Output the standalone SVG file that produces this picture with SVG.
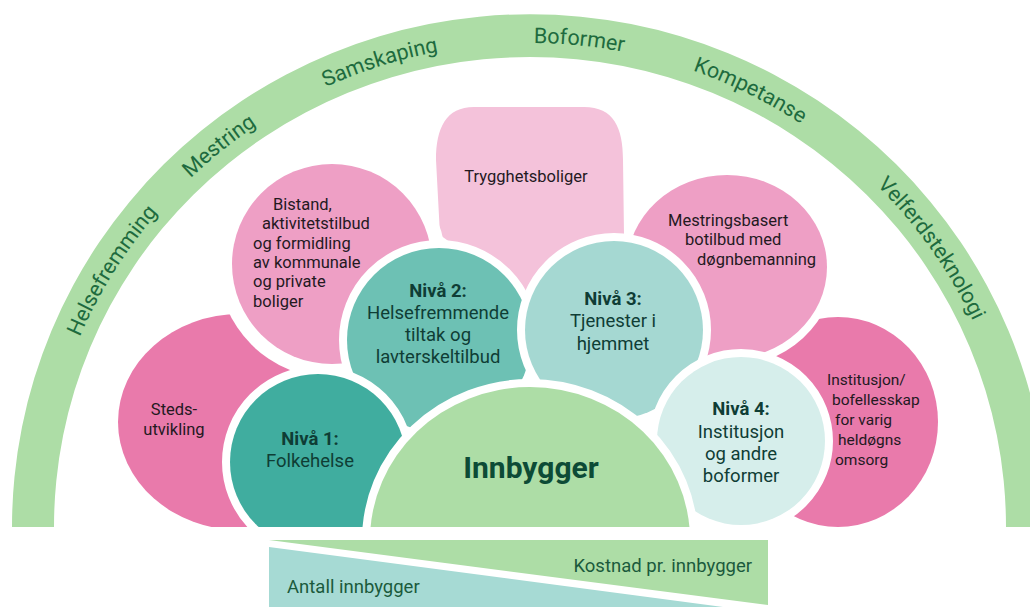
<svg xmlns="http://www.w3.org/2000/svg" width="1030" height="607" viewBox="0 0 1030 607">
  <defs>
    <style>
      .band{fill:#addda6}
      .arct{font-family:Roboto,"Liberation Sans",sans-serif;font-size:21.5px;fill:#1e6b3e}
      .halo{stroke:#ffffff;stroke-width:16;paint-order:stroke}
      .pk{font-family:Roboto,"Liberation Sans",sans-serif;font-size:16.5px;fill:#24191f}
      .pk15{font-size:15.5px}
      .mid{text-anchor:middle}
      .tl{font-family:Roboto,"Liberation Sans",sans-serif;font-size:18.5px;fill:#0f3d35;text-anchor:middle}
      .b{font-weight:bold}
      .bar{font-family:Roboto,"Liberation Sans",sans-serif;font-size:18.5px;fill:#1b5a3c}
    </style>
    <clipPath id="above">
      <rect x="0" y="0" width="1030" height="527"/>
    </clipPath>
    <path id="arcPath" d="M 40.5,527 A 489.5 484 0 0 1 1019.5,527"/>
  </defs>

  <!-- outer half ring with the guiding principles -->
  <g id="principles">
    <path class="band" d="M 12,527 A 518 513 0 0 1 1048,527 L 1006,527 A 476 470 0 0 0 54,527 Z"/>
    <text class="arct">
      <textPath href="#arcPath" startOffset="17.6%" text-anchor="middle">Helsefremming</textPath>
    </text>
    <text class="arct">
      <textPath href="#arcPath" startOffset="28.3%" text-anchor="middle">Mestring</textPath>
    </text>
    <text class="arct">
      <textPath href="#arcPath" startOffset="40.1%" text-anchor="middle">Samskaping</textPath>
    </text>
    <text class="arct">
      <textPath href="#arcPath" startOffset="53.2%" text-anchor="middle">Boformer</textPath>
    </text>
    <text class="arct">
      <textPath href="#arcPath" startOffset="64.8%" text-anchor="middle">Kompetanse</textPath>
    </text>
    <text class="arct">
      <textPath href="#arcPath" startOffset="80.6%" text-anchor="middle">Velferdsteknologi</textPath>
    </text>
  </g>

  <g clip-path="url(#above)">
    <g id="stedsutvikling">
      <ellipse cx="240" cy="422" rx="122" ry="108" fill="#e97aab"/>
      <text class="pk mid" x="174" y="415">Steds-</text>
      <text class="pk mid" x="174" y="435">utvikling</text>
    </g>

    <g id="institusjon-bofellesskap">
      <ellipse cx="838" cy="422" rx="100" ry="105" fill="#e97aab"/>
      <text class="pk pk15" x="827" y="385">Institusjon/</text>
      <text class="pk pk15" x="832" y="405">bofellesskap</text>
      <text class="pk pk15" x="835" y="425">for varig</text>
      <text class="pk pk15" x="838" y="445">heldøgns</text>
      <text class="pk pk15" x="835" y="465">omsorg</text>
    </g>

    <g id="trygghetsboliger">
      <path d="M 474,107 H 584 C 614,107 623,128 623,160 L 624,235 L 530,300 L 440,235 L 436,160 C 436,128 446,107 474,107 Z" fill="#f4c2da"/>
      <text class="pk mid" x="526" y="182">Trygghetsboliger</text>
    </g>

    <g id="bistand">
      <!-- wider white clearance towards Stedsutvikling -->
      <circle cx="332" cy="264" r="114" fill="#ffffff"/>
      <circle class="halo" cx="332" cy="264" r="100" fill="#ee9fc5"/>
      <text class="pk" x="273" y="210">Bistand,</text>
      <text class="pk" x="262" y="229">aktivitetstilbud</text>
      <text class="pk" x="253" y="249">og formidling</text>
      <text class="pk" x="253" y="268">av kommunale</text>
      <text class="pk" x="253" y="287">og private</text>
      <text class="pk" x="253" y="307">boliger</text>
    </g>

    <g id="mestringsbasert">
      <ellipse class="halo" cx="727" cy="267" rx="100" ry="92" fill="#ee9fc5"/>
      <text class="pk" x="668" y="226">Mestringsbasert</text>
      <text class="pk" x="685" y="245">botilbud med</text>
      <text class="pk" x="697" y="265">døgnbemanning</text>
    </g>

    <g id="niva2">
      <circle class="halo" cx="439" cy="340" r="92" fill="#6dc1b4"/>
      <text class="tl b" x="438" y="297">Nivå 2:</text>
      <text class="tl" x="438" y="319">Helsefremmende</text>
      <text class="tl" x="438" y="341">tiltak og</text>
      <text class="tl" x="438" y="363">lavterskeltilbud</text>
    </g>

    <g id="niva3">
      <circle class="halo" cx="614" cy="330" r="89" fill="#a5d8d2"/>
      <text class="tl b" x="613" y="305">Nivå 3:</text>
      <text class="tl" x="613" y="327">Tjenester i</text>
      <text class="tl" x="613" y="350">hjemmet</text>
    </g>

    <g id="niva1">
      <circle class="halo" cx="318" cy="462" r="88" fill="#40ad9f"/>
      <text class="tl b" x="310" y="445">Nivå 1:</text>
      <text class="tl" x="310" y="467">Folkehelse</text>
    </g>

    <g id="niva4">
      <circle class="halo" cx="741" cy="441" r="84" fill="#d6eeeb"/>
      <text class="tl b" x="741" y="415">Nivå 4:</text>
      <text class="tl" x="741" y="438">Institusjon</text>
      <text class="tl" x="741" y="460">og andre</text>
      <text class="tl" x="741" y="482">boformer</text>
    </g>

    <g id="innbygger">
      <ellipse class="halo" cx="530" cy="540" rx="160" ry="153" fill="#addda6"/>
      <text x="531" y="478" text-anchor="middle" font-family="Roboto, 'Liberation Sans', sans-serif" font-size="30" font-weight="bold" fill="#0d4b36">Innbygger</text>
    </g>
  </g>

  <!-- cost / population wedges -->
  <g id="kostnad">
    <polygon points="269,540 768,540 768,605" fill="#addda6"/>
    <text class="bar" x="752" y="572" text-anchor="end">Kostnad pr. innbygger</text>
  </g>
  <g id="antall">
    <polygon points="269,547 723,607 269,607" fill="#a6dad4"/>
    <text class="bar" x="287" y="593">Antall innbygger</text>
  </g>
</svg>
